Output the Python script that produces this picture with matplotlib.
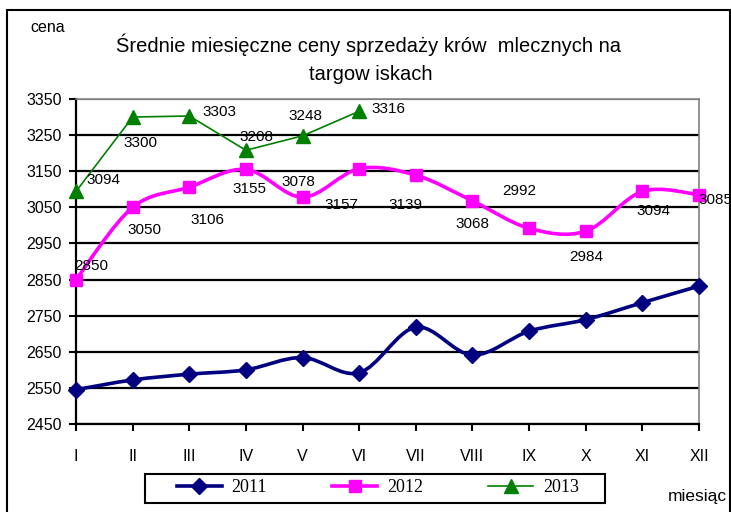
import matplotlib
matplotlib.use("Agg")
import matplotlib.pyplot as plt
from matplotlib.path import Path
from matplotlib.patches import PathPatch, Rectangle
from matplotlib.lines import Line2D

months = ["I", "II", "III", "IV", "V", "VI", "VII", "VIII", "IX", "X", "XI", "XII"]
ceny_2011 = [2545, 2572, 2588, 2600, 2634, 2592, 2718, 2641, 2707, 2739, 2786, 2832]
ceny_2012 = [2850, 3050, 3106, 3155, 3078, 3157, 3139, 3068, 2992, 2984, 3094, 3085]
ceny_2013 = [3094, 3300, 3303, 3208, 3248, 3316]

# label offsets in pixels (dx, dy) relative to each marker
off_2012 = [(15, 14), (12, -23), (18, -33), (4, -20), (-4, 15), (-18, -36),
            (-10, -30), (0, -23), (-10, 37), (1, -26), (11, -20), (16, -5)]
off_2013 = [(27, 11), (8, -26), (30, 4), (11, 13), (3, 20), (29, 2)]

NAVY = "#000080"
MAGENTA = "#FF00FF"
GREEN = "#008000"
SANS = "Liberation Sans"

plt.rcParams["font.family"] = SANS


def smooth_path(xs, ys):
    # Excel-like smoothed line: cubic bezier segments (catmull-rom, tension 1/6)
    pts = list(zip(xs, ys))
    n = len(pts)
    verts = [pts[0]]
    codes = [Path.MOVETO]
    for i in range(n - 1):
        p0 = pts[i - 1] if i > 0 else pts[i]
        p1 = pts[i]
        p2 = pts[i + 1]
        p3 = pts[i + 2] if i + 2 < n else pts[i + 1]
        c1 = (p1[0] + (p2[0] - p0[0]) / 6, p1[1] + (p2[1] - p0[1]) / 6)
        c2 = (p2[0] - (p3[0] - p1[0]) / 6, p2[1] - (p3[1] - p1[1]) / 6)
        verts += [c1, c2, p2]
        codes += [Path.CURVE4] * 3
    return Path(verts, codes)


fig = plt.figure(figsize=(7.31, 5.12), dpi=100)
ax = fig.add_axes([76 / 731, 1 - 424 / 512, 623 / 731, 325 / 512])

x = list(range(len(months)))

# grid
for v in range(2450, 3351, 100):
    ax.axhline(v, color="gray" if v == 3350 else "black", lw=1.6, zorder=1)

# 2011 smoothed
ax.add_patch(PathPatch(smooth_path(x, ceny_2011), fill=False, ec=NAVY, lw=2.6,
                       zorder=3, clip_on=False))
ax.plot(x, ceny_2011, ls="none", marker="D", ms=8, color=NAVY, zorder=4, clip_on=False)

# 2012 smoothed
ax.add_patch(PathPatch(smooth_path(x, ceny_2012), fill=False, ec=MAGENTA, lw=2.6,
                       zorder=3, clip_on=False))
ax.plot(x, ceny_2012, ls="none", marker="s", ms=9, color=MAGENTA, zorder=4, clip_on=False)

# 2013 straight
x13 = x[:len(ceny_2013)]
ax.plot(x13, ceny_2013, color=GREEN, lw=1.2, marker="^", ms=10, zorder=4, clip_on=False)

for xi, v, (dx, dy) in zip(x, ceny_2012, off_2012):
    ax.annotate(str(v), (xi, v), xytext=(dx, dy), textcoords="offset pixels",
                ha="center", va="center", fontsize=11, zorder=5, annotation_clip=False)
for xi, v, (dx, dy) in zip(x13, ceny_2013, off_2013):
    ax.annotate(str(v), (xi, v), xytext=(dx, dy), textcoords="offset pixels",
                ha="center", va="center", fontsize=11, zorder=5, annotation_clip=False)

ax.set_xlim(0, 11)
ax.set_ylim(2450, 3350)
ax.set_yticks(range(2450, 3351, 100))
ax.set_xticks(x)
ax.set_xticklabels(months)
ax.tick_params(axis="both", labelsize=11.5, length=5, width=1.5, color="black")
ax.tick_params(axis="x", pad=13)
ax.tick_params(axis="y", pad=5)

ax.spines["left"].set_linewidth(1.6)
ax.spines["bottom"].set_linewidth(1.6)
ax.spines["top"].set_color("gray")
ax.spines["right"].set_color("gray")
ax.spines["top"].set_linewidth(1.2)
ax.spines["right"].set_linewidth(1.2)

# title and axis captions
fig.text(369 / 731, 1 - 45 / 512, "Średnie miesięczne ceny sprzedaży krów  mlecznych na",
         ha="center", va="center", fontsize=14.5)
fig.text(371 / 731, 1 - 75 / 512, "targow iskach", ha="center", va="center", fontsize=14.5)
fig.text(48 / 731, 1 - 28 / 512, "cena", ha="center", va="center", fontsize=11.5)
fig.text(668 / 731, 1 - 496 / 512, "miesiąc", ha="left", va="center", fontsize=12.5)

handles = [
    Line2D([], [], color=NAVY, lw=2.6, marker="D", ms=8),
    Line2D([], [], color=MAGENTA, lw=2.6, marker="s", ms=9),
    Line2D([], [], color=GREEN, lw=1.2, marker="^", ms=10),
]
fig.legend(handles, ["2011", "2012", "2013"], loc="center", ncol=3,
           bbox_to_anchor=(378 / 731, 1 - 488 / 512),
           prop={"family": "Liberation Serif", "size": 13}, frameon=False,
           handlelength=2.5, handletextpad=0.55, columnspacing=3.6, borderpad=0)

# legend box
fig.add_artist(Rectangle((145 / 731, 9 / 512), 460 / 731, 29 / 512, transform=fig.transFigure,
                         fill=False, ec="black", lw=1.5))

# outer frame
fig.add_artist(Rectangle((7 / 731, -0.1), 723 / 731, 1.08, transform=fig.transFigure,
                         fill=False, ec="black", lw=1.5))

fig.savefig("out.png", dpi=100)
